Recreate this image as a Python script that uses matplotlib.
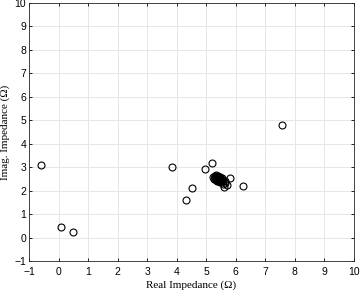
import matplotlib.pyplot as plt

# impedance points
re_z = [-0.58, 0.08, 0.50, 3.84, 4.30, 4.53, 4.96, 5.21, 7.57, 6.23, 5.81, 5.60, 5.70,
        5.24, 5.25, 5.28, 5.30, 5.32, 5.34, 5.36, 5.38, 5.40, 5.42, 5.44, 5.46, 5.48,
        5.50, 5.33, 5.37, 5.41, 5.45, 5.39, 5.35, 5.43, 5.47, 5.52, 5.55, 5.31, 5.29,
        5.49, 5.62, 5.65, 5.58, 5.36, 5.40, 5.44, 5.38, 5.42, 5.46, 5.34, 5.51, 5.53]
im_z = [3.10, 0.43, 0.24, 3.00, 1.58, 2.12, 2.92, 3.18, 4.81, 2.21, 2.56, 2.17, 2.26,
        2.59, 2.50, 2.62, 2.55, 2.65, 2.60, 2.58, 2.52, 2.63, 2.55, 2.50, 2.57, 2.45,
        2.48, 2.45, 2.40, 2.42, 2.38, 2.50, 2.54, 2.60, 2.52, 2.44, 2.40, 2.57, 2.64,
        2.36, 2.33, 2.42, 2.30, 2.49, 2.47, 2.44, 2.56, 2.53, 2.41, 2.52, 2.50, 2.55]

fig = plt.figure(figsize=(3.6, 2.93), dpi=100)
ax = fig.add_axes([29 / 360, 32 / 293, 325 / 360, 258 / 293])
ax.plot(re_z, im_z, 'o', mfc='none', mec='k', ms=5, mew=0.8, ls='none')

ax.set_xlim(-1, 10)
ax.set_ylim(-1, 10)
ax.set_xticks(range(-1, 11))
ax.set_yticks(range(-1, 11))
ax.grid(True, color='#e6e6e6', lw=0.7)
ax.set_axisbelow(True)
ax.tick_params(direction='in', length=2.5, width=0.6, labelsize=7.5, top=True, right=True)
ax.tick_params(axis='x', pad=4)
ax.tick_params(axis='y', pad=2)
for lab in ax.get_xticklabels() + ax.get_yticklabels():
    lab.set_family('Liberation Sans')
for s in ax.spines.values():
    s.set_linewidth(0.6)
    s.set_color('#262626')

ax.set_xlabel('Real Impedance (Ω)', family='Liberation Serif', fontsize=8, labelpad=3)
ax.set_ylabel('Imag. Impedance (Ω)', family='Liberation Serif', fontsize=8, labelpad=3)

fig.savefig('out.png', dpi=100)
